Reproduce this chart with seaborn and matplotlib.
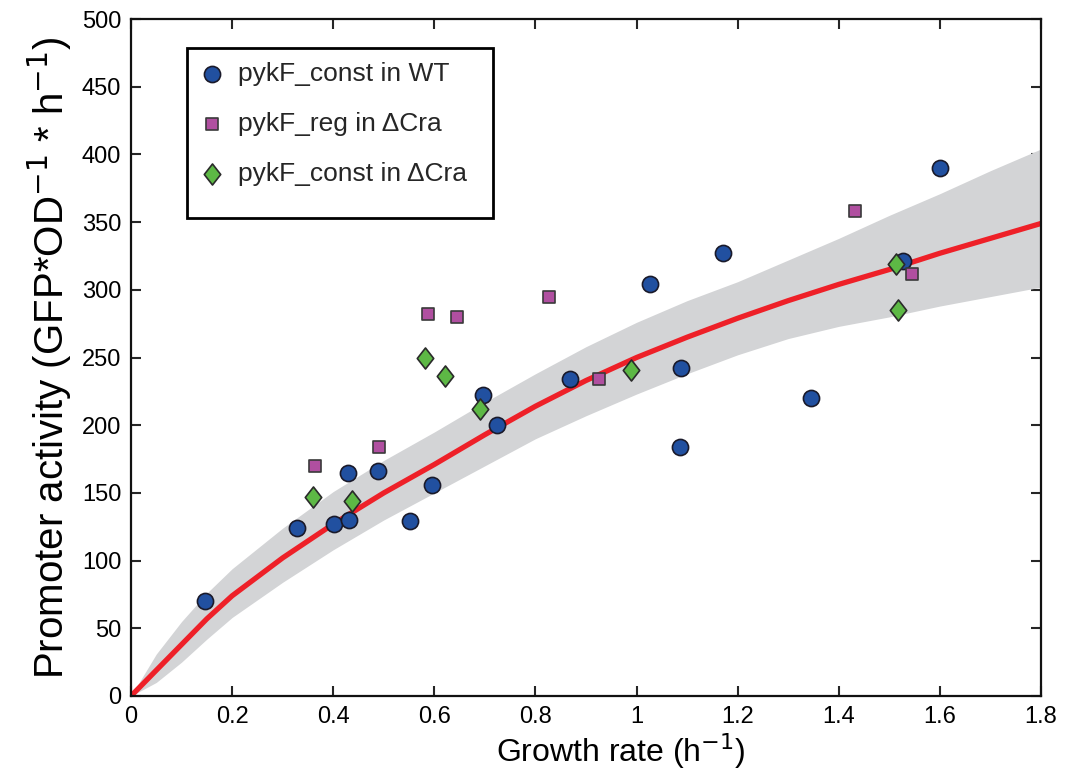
import numpy as np
import pandas as pd
import matplotlib
matplotlib.use("Agg")
import matplotlib.pyplot as plt
from matplotlib.patches import Rectangle
from matplotlib.path import Path
import seaborn as sns

wt_x = [0.147, 0.329, 0.401, 0.431, 0.429, 0.489, 0.595, 0.552, 0.696, 0.724,
        0.869, 1.088, 1.086, 1.027, 1.171, 1.600, 1.527, 1.346]
wt_y = [70, 124, 127, 130, 165, 166, 156, 129, 222, 200,
        234, 242, 184, 304, 327, 390, 321, 220]

reg_x = [0.363, 0.491, 0.587, 0.644, 0.827, 0.925, 1.432, 1.544]
reg_y = [170, 184, 282, 280, 295, 234, 358, 312]

cra_x = [0.360, 0.438, 0.691, 0.582, 0.622, 0.989, 1.513, 1.517]
cra_y = [147, 144, 212, 250, 236, 241, 319, 285]

# fitted curve and its band
fit_x = [0, 0.05, 0.1, 0.15, 0.2, 0.3, 0.4, 0.5, 0.6, 0.7, 0.8, 0.9,
         1.0, 1.1, 1.2, 1.3, 1.4, 1.5, 1.6, 1.7, 1.8]
fit_y = [0, 19, 38, 57, 74, 102, 127, 150, 171, 193, 214, 233,
         250, 265, 279, 292, 304, 315, 327, 338, 349]
band_hi = [0, 31, 55, 76, 94, 124, 151, 174, 195, 217, 238, 258,
           276, 292, 306, 322, 338, 355, 371, 388, 404]
band_lo = [0, 10, 25, 42, 58, 84, 108, 130, 150, 170, 190, 207,
           223, 238, 252, 264, 273, 280, 288, 295, 302]

sns.set_style("ticks")
plt.rcParams['font.family'] = ['Liberation Sans', 'DejaVu Sans']

# slightly tall diamond like the original
diamond = Path([(0, 1), (0.78, 0), (0, -1), (-0.78, 0), (0, 1)],
               [Path.MOVETO, Path.LINETO, Path.LINETO, Path.LINETO, Path.CLOSEPOLY])

fig = plt.figure(figsize=(10.66, 7.8), dpi=100)
ax = fig.add_axes([0.1229, 0.1077, 0.8536, 0.8679])

ax.fill_between(fit_x, band_lo, band_hi, color='#d3d4d6', lw=0, zorder=1)
sns.lineplot(x=fit_x, y=fit_y, color='#ee2028', lw=3.8, ax=ax, zorder=2)

sns.scatterplot(x=wt_x, y=wt_y, marker='o', s=135, color='#2150a0',
                edgecolor='#1a1a2a', linewidth=1.2, label='pykF_const in WT', ax=ax, zorder=3)
sns.scatterplot(x=reg_x, y=reg_y, marker='s', s=85, color='#b04fa0',
                edgecolor='#3a3a3a', linewidth=1.2, label='pykF_reg in \u0394Cra', ax=ax, zorder=3)
sns.scatterplot(x=cra_x, y=cra_y, marker=diamond, s=230, color='#5db845',
                edgecolor='#2a2a2a', linewidth=1.2, label='pykF_const in \u0394Cra', ax=ax, zorder=3)

ax.set_xlim(0, 1.8)
ax.set_ylim(0, 500)
ax.set_xticks(np.arange(0, 1.81, 0.2))
ax.set_xticklabels(['0', '0.2', '0.4', '0.6', '0.8', '1', '1.2', '1.4', '1.6', '1.8'])
ax.set_yticks(np.arange(0, 501, 50))
ax.tick_params(direction='in', length=7, width=1.5, labelsize=17, labelcolor='black',
               top=True, right=True, pad=7)
for sp in ax.spines.values():
    sp.set_visible(True)
    sp.set_linewidth(1.6)
    sp.set_color('#111111')

ax.set_xlabel('Growth rate (h$^{-1}$)', fontsize=23, color='black')
ax.xaxis.set_label_coords(0.538, -0.052)
ax.set_ylabel('Promoter activity (GFP*OD$^{-1}$ * h$^{-1}$)', fontsize=29,
              labelpad=6, color='black')

leg = ax.legend(loc='upper left', bbox_to_anchor=(0.075, 0.936), fontsize=19,
                frameon=False, borderpad=0, labelspacing=0.98,
                handletextpad=0.45, handlelength=1.0, borderaxespad=0)
# legend box, taller than its entries as in the original
ax.add_patch(Rectangle((0.0615, 0.706), 0.3365, 0.251, transform=ax.transAxes,
                       fill=True, facecolor='white', edgecolor='black', lw=2, zorder=4))
leg.set_zorder(5)

fig.savefig('out.png', dpi=100)
